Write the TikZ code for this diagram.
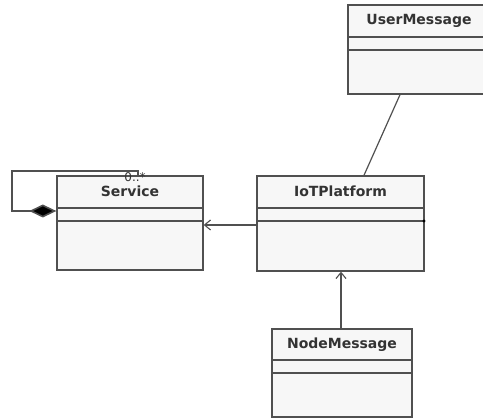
\documentclass[tikz,border=0pt]{standalone}
\usepackage{fontspec}
\setmainfont{DejaVu Sans}
\usetikzlibrary{arrows.meta}
\definecolor{edgegray}{HTML}{505050}
\definecolor{boxfill}{HTML}{F7F7F7}
\definecolor{txtgray}{HTML}{333333}
\tikzset{
  classbox/.style={draw=edgegray, line width=1.4pt, fill=boxfill, rectangle,
    inner sep=0pt},
  classname/.style={font=\bfseries\fontsize{14}{16}\selectfont, text=txtgray},
  divider/.style={draw=edgegray, line width=1.4pt},
  assoc/.style={draw=edgegray, line width=1.2pt},
  dep/.style={assoc, -{Straight Barb[length=6pt,width=10pt,line width=1.1pt]}},
  composition/.style={assoc, line width=1.6pt, {Diamond[length=27pt,width=13pt,fill=black]}-},
  multiplicity/.style={font=\fontsize{12}{13}\selectfont, text=txtgray}
}
\begin{document}
\begin{tikzpicture}[x=1pt,y=-1pt]
  \fill[white] (0,0) rectangle (483,419);
  \clip (0,0) rectangle (483,419);

  % Service
  \node[classbox, minimum width=146pt, minimum height=94pt] (svc) at (130,223) {};
  \node[classname] (svct) at (130,191) {Service};
  \draw[divider] (57,208) -- (203,208);
  \draw[divider] (57,221) -- (203,221);

  % IoTPlatform
  \node[classbox, minimum width=167pt, minimum height=95pt] (iot) at (340.5,223.5) {};
  \node[classname] (iott) at (340.5,191) {IoTPlatform};
  \draw[divider] (257,208) -- (424,208);
  \draw[divider] (257,221) -- (424,221);
  \fill[black] (424,221) circle (1.6pt);

  % UserMessage (runs past the right margin)
  \node[classbox, minimum width=144pt, minimum height=89pt] (usr) at (420,49.5) {};
  \node[classname] (usrt) at (419,21) {UserMessage};
  \draw[divider] (348,37) -- (492,37);
  \draw[divider] (348,50) -- (492,50);

  % NodeMessage
  \node[classbox, minimum width=140pt, minimum height=88pt] (nod) at (342,373) {};
  \node[classname] (nodt) at (342,345) {NodeMessage};
  \draw[divider] (272,360) -- (412,360);
  \draw[divider] (272,373) -- (412,373);

  % connectors
  \coordinate (iotL) at (iot.west |- 0,225);
  \coordinate (svcR) at (svc.east |- 0,225);
  \draw[dep] (iotL) -- (svcR);

  \coordinate (nodT) at (nod.north -| 341,0);
  \coordinate (iotB) at (iot.south -| 341,0);
  \draw[dep] (nodT) -- (iotB);

  \coordinate (usrB) at (usr.south -| 400,0);
  \coordinate (iotT) at (iot.north -| 364,0);
  \draw[assoc] (usrB) -- (iotT);

  % self composition on Service
  \coordinate (svcW) at (svc.west |- 0,211);
  \coordinate (svcN) at (svc.north -| 138,0);
  \draw[composition] (svcW) -- (12,211) -- (12,171) -- (138,171) -- (svcN);
  \node[multiplicity, anchor=base] (mult) at (135,182) {0..*};
\end{tikzpicture}
\end{document}
